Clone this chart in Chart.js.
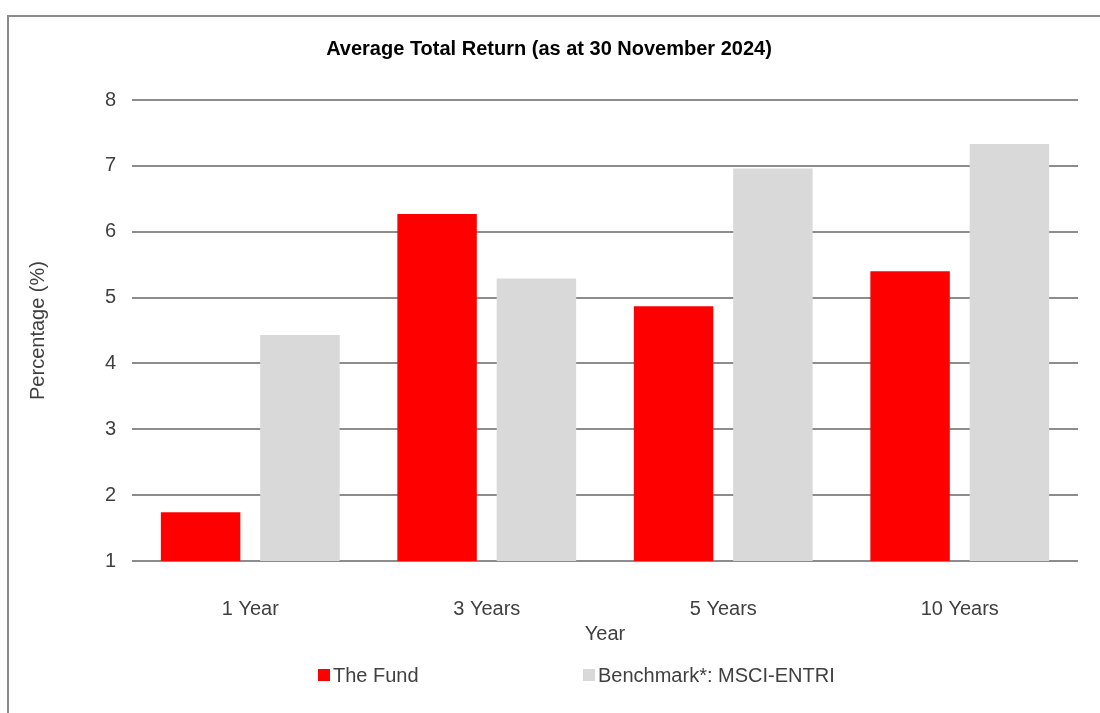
<!DOCTYPE html>
<html>
<head>
<meta charset="utf-8">
<script src="https://cdn.jsdelivr.net/npm/chart.js@4"></script>
<style>
  body { margin: 0; background: #fff; overflow: hidden; }
  #frame { position: absolute; left: 7px; top: 15px; width: 1200px; height: 800px; border: 2px solid #8a8a8a; }
  #wrap { position: absolute; left: 0; top: 0; width: 1100px; height: 713px; }
</style>
</head>
<body>
<div id="frame"></div>
<div id="wrap"><canvas id="chart" width="1100" height="713"></canvas></div>
<script>
const categories = ['1 Year', '3 Years', '5 Years', '10 Years']
const fundReturns = [1.74, 6.27, 4.87, 5.40]
const benchmarkReturns = [4.43, 5.29, 6.96, 7.33]
const seriesLabels = ['The Fund', 'Benchmark*: MSCI-ENTRI']
const seriesColors = ['#ff0000', '#d9d9d9']

const FONT = "'Liberation Sans', Arial, sans-serif"
const TXT = '#404040'

// legend drawn by hand so the two items can sit far apart like the original
const wideLegend = {
  id: 'wideLegend',
  afterDraw(chart) {
    const ctx = chart.ctx
    const spots = [318, 583]
    const y = 675
    ctx.save()
    ctx.font = '20px ' + FONT
    ctx.textBaseline = 'middle'
    chart.data.datasets.forEach((ds, i) => {
      ctx.fillStyle = ds.backgroundColor
      ctx.fillRect(spots[i], y - 6, 12, 12)
      ctx.fillStyle = TXT
      ctx.fillText(ds.label, spots[i] + 15, y + 1)
    })
    ctx.restore()
  }
}

new Chart(document.getElementById('chart'), {
  type: 'bar',
  data: {
    labels: categories,
    datasets: [
      { label: seriesLabels[0], data: fundReturns, backgroundColor: seriesColors[0] },
      { label: seriesLabels[1], data: benchmarkReturns, backgroundColor: seriesColors[1] }
    ]
  },
  options: {
    responsive: false,
    animation: false,
    categoryPercentage: 0.84,
    barPercentage: 0.8,
    layout: { padding: { top: 37, right: 22, bottom: 67, left: 20 } },
    plugins: {
      legend: { display: false },
      tooltip: { enabled: false },
      title: {
        display: true,
        text: 'Average Total Return (as at 30 November 2024)',
        color: '#000',
        font: { family: FONT, size: 20, weight: 'bold' },
        padding: { top: 0, bottom: 39 }
      }
    },
    scales: {
      y: {
        min: 1,
        max: 8,
        ticks: { stepSize: 1, color: TXT, padding: 16, font: { family: FONT, size: 20 } },
        grid: { color: '#8c8c8c', lineWidth: 2, drawTicks: false },
        border: { display: false },
        title: { display: true, text: 'Percentage (%)', color: TXT, font: { family: FONT, size: 20 }, padding: { top: 6, bottom: 0 } },
        afterFit(scale) { scale.width = 112 }
      },
      x: {
        ticks: { color: TXT, padding: 36, font: { family: FONT, size: 20 } },
        grid: { display: false, drawTicks: false },
        border: { display: false },
        title: { display: true, text: 'Year', color: TXT, font: { family: FONT, size: 20 }, padding: 0 },
        afterFit(scale) { scale.height = 85 }
      }
    }
  },
  plugins: [wideLegend]
})
</script>
</body>
</html>
